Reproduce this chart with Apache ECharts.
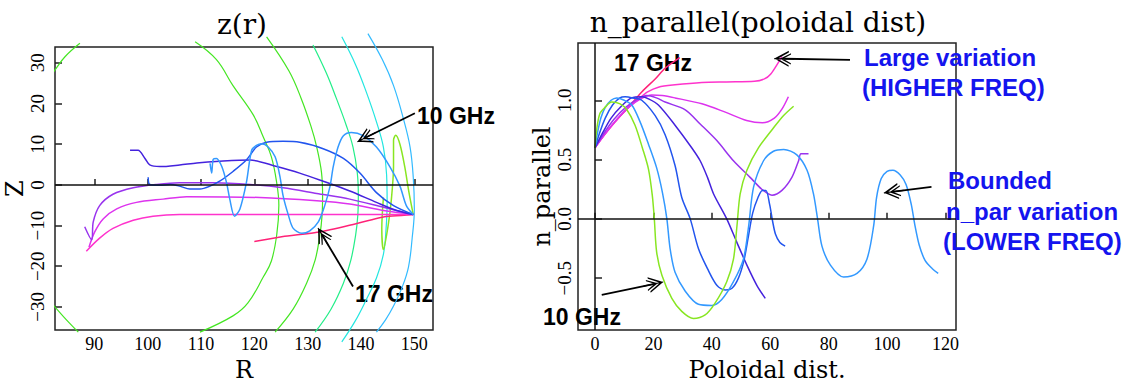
<!DOCTYPE html>
<html>
<head>
<meta charset="utf-8">
<title>z(r) / n_parallel(poloidal dist)</title>
<script src="https://cdn.jsdelivr.net/npm/echarts@6.0.0/dist/echarts.min.js"></script>
<style>
  html, body { margin: 0; padding: 0; background: #fff; }
  #main { width: 1129px; height: 387px; }
</style>
</head>
<body>
<div id="main"></div>
<script>
// tick values
const rTicks = [90, 100, 110, 120, 130, 140, 150]
const zTicks = [-30, -20, -10, 0, 10, 20, 30]
const pdTicks = [0, 20, 40, 60, 80, 100, 120]
const npTicks = [-0.5, 0, 0.5, 1.0]

// flux surfaces in the z(r) panel, [R, Z]
const surfA1 = [[81.7, 26.4], [82.6, 28.2], [84.5, 31.5], [87.3, 34.8]]
const surfA2 = [[81.7, -28.6], [84.3, -32.5], [87.0, -36.2]]
const surfB = [[108.9, 35.2], [112.9, 30.8], [116.0, 24.4], [119.8, 17.2], [121.7, 11.7], [123.2, 6.9], [124.2, 0.5], [124.6, -5], [124.2, -12.3], [123.2, -18.7], [121.7, -22.6], [118.8, -29], [116.0, -32.2], [109.8, -36.2]]
const surfC = [[122.3, 36.4], [126.5, 28], [128.8, 21.2], [130.6, 14.5], [131.7, 9.3], [132.6, 3], [132.8, -2.7], [132.7, -7.5], [132.3, -12.3], [131.4, -18.5], [129.8, -24.2], [127.3, -30.5], [123.9, -36.2]]
const surfD = [[131.0, 34.4], [133.5, 27.5], [135.4, 21.2], [137.2, 14.8], [138.5, 9.3], [139.3, 3], [139.5, -2.7], [139.4, -7.5], [139.0, -12.3], [138.1, -18.5], [136.7, -24.2], [134.4, -30.5], [131.4, -36.2]]
const surfE = [[136.4, 36.4], [139, 29.5], [141.0, 22.8], [142.9, 15.5], [144.2, 9.3], [144.8, 2.5], [144.9, -4.3], [144.7, -10.8], [144.2, -17.1], [142.9, -22.9], [141.0, -28.2], [138.9, -33.5], [136.4, -38.6]]
const surfF = [[141.3, 37.2], [144, 30.8], [146.1, 24.4], [147.9, 16.5], [149.2, 9.3], [149.8, 1.8], [150.0, -5.9], [149.6, -13], [148.9, -20.2], [147.7, -25.2], [146.1, -29.8], [144.6, -33.2], [142.9, -36.2]]

// ray paths in the z(r) panel, [R, Z]
const zrGreen = [[149.8, -7.3], [149, -1.9], [148.2, 4.5], [147.3, 10], [146.5, 12.2], [146.1, 11], [146.1, 4.5], [145.7, -3.5], [145.1, -9.9], [144.2, -15.9], [143.9, -10.7], [144.2, -3.1]]
const zrLightBlue = [[149.8, -7.3], [148.5, -5.1], [147.3, -0.3], [145.4, 4.5], [142.9, 9.3], [140.4, 12.1], [138.2, 12.9], [136.7, 12.1], [135.7, 9.3], [134.8, 4.5], [134.2, -0.3], [133.2, -5.1], [132, -9.1], [130.4, -11.3], [128.9, -11.9], [127.3, -10.7], [126.4, -7.5], [125.4, -2.7], [124.8, 2.1], [123.9, 6.9], [122.6, 9.3], [121.4, 10.1], [120.4, 9.7], [119.5, 8.5], [118.5, 0.5], [117.3, -5.9], [116.3, -7.7], [115.4, -3.5], [114.8, 0.5], [113.9, 4.5], [112.9, 6.5], [112.3, 6.3], [112.0, 2.9], [111.7, 5.3]]
const zrBlue = [[149.8, -7.3], [146.1, -5.1], [142.9, -1.9], [139.8, 2.9], [136.7, 6.5], [132.9, 8.9], [128.5, 10.5], [125.4, 10.7], [122.3, 10.5], [120.4, 9.3], [118.5, 6.1], [116, 3.3], [113.5, 0.9], [111.7, -0.3], [109.8, -1], [107.9, -1], [106, -0.3], [104.2, 0.1], [102.3, -0.1], [100.4, 0.1], [100.1, 1.9]]
const zrIndigo = [[149.8, -7.3], [146.7, -6.3], [142.9, -4.3], [137.9, -1.5], [132.9, 0.9], [128.5, 2.9], [124.2, 4.5], [119.2, 6.1], [113.5, 5.8], [109.2, 5.4], [106, 4.9], [102.3, 4.5], [100.4, 4.9], [99.5, 6.5], [98.2, 8.5], [96.7, 8.5]]
const zrViolet = [[149.8, -7.3], [144.2, -5.5], [137.9, -3.5], [131.7, -2.1], [125.4, -0.7], [119.2, 0.1], [112.3, 0.5], [106, 0.5], [101.7, 0.1], [97.3, -0.7], [93.5, -2.3], [91, -5.1], [89.8, -9.1], [89.5, -13.5], [88.2, -10.3]]
const zrMagenta = [[149.8, -7.3], [144.2, -6.3], [137.9, -4.7], [131.7, -3.9], [121, -3.1], [107.3, -2.9], [102.9, -3.5], [97.9, -4.3], [94.2, -5.9], [91.7, -8.3], [90.1, -11.5], [89, -15.3]]
const zrPink = [[149.8, -7.3], [140, -7.3], [120, -7.3], [106, -7.3], [101, -7.7], [97.3, -8.7], [93.5, -10.7], [91, -13.1], [88.5, -16.3]]
const zrRed = [[149.8, -7.3], [144.2, -7.9], [137.9, -9.9], [132.6, -11.5], [125.4, -12.7], [120, -13.9]]

// n_parallel along each ray, [poloidal dist, n_parallel]
const npGreen = [[0, 0.6], [0.6, 0.76], [1.7, 0.89], [3.4, 0.94], [5.7, 0.985], [8.6, 0.97], [10.9, 0.92], [13.7, 0.79], [16.2, 0.6], [18.3, 0.42], [19.6, 0.2], [20.3, 0], [21.1, -0.28], [22.9, -0.475], [26.3, -0.67], [29.7, -0.78], [33.7, -0.84], [37.7, -0.81], [41.1, -0.71], [45.1, -0.53], [47.4, -0.34], [48.6, -0.06], [49.7, 0.21], [52, 0.41], [56, 0.6], [61.2, 0.77], [64.5, 0.87], [68, 0.95]]
const npLightBlue = [[0, 0.6], [0.8, 0.72], [2, 0.85], [3.5, 0.94], [5.5, 1.0], [7.4, 1.02], [10, 1.0], [12.6, 0.96], [15.4, 0.82], [18.3, 0.63], [21.1, 0.43], [23.1, 0.22], [24.6, 0], [25.7, -0.25], [27.4, -0.45], [30.9, -0.61], [35.4, -0.72], [40, -0.73], [43.4, -0.68], [47.4, -0.53], [50.8, -0.34], [52.6, -0.06], [54.3, 0.27], [57.7, 0.49], [61.1, 0.57], [64.6, 0.585], [69.1, 0.54], [72.6, 0.41], [74.8, 0.21], [76.2, 0], [77.7, -0.23], [80.6, -0.39], [85.1, -0.49], [89.7, -0.46], [93.1, -0.34], [95.4, -0.06], [96.4, 0.18], [98, 0.34], [100, 0.4], [102, 0.41], [104.5, 0.37], [106.5, 0.29], [108.3, 0.12], [109.5, -0.05], [111, -0.22], [113, -0.35], [115.5, -0.42], [117.5, -0.46]]
const npBlue = [[0, 0.6], [1.5, 0.72], [3.5, 0.85], [6, 0.96], [8.5, 1.02], [10.3, 1.03], [13, 1.02], [16, 1.0], [20.6, 0.87], [24, 0.71], [27.4, 0.45], [29.7, 0.18], [32.6, 0], [35.4, -0.25], [38.5, -0.42], [41.7, -0.56], [44.6, -0.6], [46.9, -0.585], [49.1, -0.5], [51, -0.35], [52.5, -0.15], [54, 0.05], [55.8, 0.18], [57.3, 0.24], [58.5, 0.24], [59.8, 0.12], [60.8, -0.02], [61.8, -0.13], [63.3, -0.2], [65.1, -0.23]]
const npIndigo = [[0, 0.6], [2.5, 0.72], [5.5, 0.85], [9, 0.95], [12.5, 1.02], [16, 1.03], [18.5, 1.01], [21.7, 0.96], [27.4, 0.79], [33.1, 0.6], [36, 0.49], [38.5, 0.35], [40.6, 0.21], [45.1, 0], [48.6, -0.2], [52, -0.39], [55.4, -0.56], [58.3, -0.67]]
const npViolet = [[0, 0.6], [3, 0.72], [6.5, 0.84], [10.5, 0.94], [14.5, 1.01], [17.7, 1.04], [21, 1.02], [24, 0.985], [30.9, 0.92], [36, 0.8], [41.7, 0.66], [47.4, 0.49], [53.1, 0.35], [57.1, 0.25], [60.6, 0.2], [64, 0.24], [67.4, 0.35], [69.7, 0.49], [70.5, 0.55], [73.1, 0.55]]
const npMagenta = [[0, 0.6], [3.5, 0.72], [7.5, 0.84], [11.5, 0.94], [15.5, 1.01], [19.4, 1.045], [23, 1.04], [27.4, 1.02], [36.6, 0.97], [44.6, 0.9], [51.9, 0.83], [57.3, 0.81], [61.4, 0.85], [64.1, 0.93], [66.2, 1.03]]
const npPink = [[0, 0.6], [3, 0.7], [7, 0.82], [11, 0.93], [14.9, 1.01], [18, 1.07], [21.7, 1.11], [27.4, 1.13], [36.6, 1.15], [45, 1.155], [54.6, 1.16], [58, 1.18], [60.1, 1.22], [62.8, 1.32], [64, 1.37]]
const npRed = [[0, 0.6], [2.3, 0.68], [6.9, 0.82], [11.4, 0.94], [16, 1.07], [20.6, 1.18], [24, 1.27], [29, 1.36]]

const chart = echarts.init(document.getElementById('main'), null, { renderer: 'svg' })

const serif = 'DejaVu Serif'
const tickFont = 'Liberation Serif'
const sans = 'Liberation Sans'
const minus = v => String(v).replace('-', '\u2212')

const colors = {
	green: '#88e622',
	lightBlue: '#3399ff',
	blue: '#2255ee',
	indigo: '#4422dd',
	violet: '#9933ee',
	magenta: '#dd33ee',
	pink: '#ff33cc',
	red: '#ff2277'
}

function curve(data, color, grid, width, extra) {
	return Object.assign({
		type: 'line',
		data: data,
		xAxisIndex: grid,
		yAxisIndex: grid,
		symbol: 'none',
		smooth: 0.3,
		silent: true,
		lineStyle: { color: color, width: width },
		emphasis: { disabled: true }
	}, extra || {})
}

function xAxis(grid, min, max, ticks, name) {
	return {
		type: 'value', gridIndex: grid, min: min, max: max,
		name: name, nameLocation: 'middle', nameGap: 20,
		nameTextStyle: { fontFamily: serif, fontSize: 24, color: '#000' },
		axisLine: { show: false },
		axisTick: { inside: true, length: 6, customValues: ticks, lineStyle: { color: '#222', width: 1.5 } },
		axisLabel: { customValues: ticks, margin: 5, fontFamily: tickFont, fontSize: 18, color: '#000', formatter: minus },
		splitLine: { show: false }
	}
}

function yAxis(grid, min, max, ticks, name, fmt, margin) {
	return {
		type: 'value', gridIndex: grid, min: min, max: max,
		name: name, nameLocation: 'middle', nameGap: 23,
		nameTextStyle: { fontFamily: serif, fontSize: 24, color: '#000' },
		axisLine: { show: false },
		axisTick: { inside: true, length: 7, customValues: ticks, lineStyle: { color: '#222', width: 1.5 } },
		axisLabel: { customValues: ticks, rotate: 90, margin: margin, fontFamily: tickFont, fontSize: 19, color: '#000', formatter: fmt },
		splitLine: { show: false }
	}
}

// zero lines of each panel
function zeroLines(grid, marks) {
	return {
		type: 'line', xAxisIndex: grid, yAxisIndex: grid, data: [], silent: true,
		markLine: {
			silent: true, animation: false,
			symbol: ['none', 'none'],
			label: { show: false },
			emphasis: { disabled: true },
			lineStyle: { color: '#111', width: 1.5, type: 'solid' },
			data: marks
		}
	}
}

// chevron-with-spine head for the annotation arrows
const arrowHead = 'path://M10,0 L20,13 L18,13 L10,3 L2,13 L0,13 Z M10,5 L17,15 L15.5,15 L10,8 L4.5,15 L3,15 Z M9.3,0 L10.7,0 L10.7,18 L9.3,18 Z'

function arrows(grid, marks) {
	return {
		type: 'line', xAxisIndex: grid, yAxisIndex: grid, data: [], silent: true,
		markLine: {
			silent: true, animation: false,
			symbol: ['none', arrowHead],
			symbolSize: [16, 20],
			label: { show: false },
			emphasis: { disabled: true },
			itemStyle: { color: '#000' },
			lineStyle: { color: '#000', width: 1.8, type: 'solid' },
			data: marks.map(m => [{ coord: m[0] }, { coord: m[1] }])
		}
	}
}

function label(x, y, text, size, family, weight, color, align) {
	return {
		type: 'text', x: x, y: y, silent: true,
		style: {
			text: text, fill: color, fontSize: size, fontFamily: family, fontWeight: weight,
			align: align || 'left', verticalAlign: 'middle'
		}
	}
}

const blueText = '#1414ee'

const surfaces = [
	[surfA1, '#44e622'], [surfA2, '#44e622'], [surfB, '#44e622'], [surfC, '#44e622'],
	[surfD, '#22ee88'], [surfE, '#22e6e0'], [surfF, '#33bbff']
]

const series = []
surfaces.forEach(s => series.push(curve(s[0], s[1], 0, 1.2, { smooth: 0.4, clip: false })))
series.push(curve(zrGreen, colors.green, 0, 1.5))
series.push(curve(zrRed, colors.red, 0, 1.5, { smooth: 0.1 }))
series.push(curve(zrPink, colors.pink, 0, 1.5))
series.push(curve(zrMagenta, colors.magenta, 0, 1.5))
series.push(curve(zrViolet, colors.violet, 0, 1.5))
series.push(curve(zrIndigo, colors.indigo, 0, 1.5))
series.push(curve(zrBlue, colors.blue, 0, 1.5))
series.push(curve(zrLightBlue, colors.lightBlue, 0, 1.5))

series.push(curve(npRed, colors.red, 1, 1.5))
series.push(curve(npPink, colors.pink, 1, 1.5))
series.push(curve(npMagenta, colors.magenta, 1, 1.5))
series.push(curve(npViolet, colors.violet, 1, 1.5))
series.push(curve(npIndigo, colors.indigo, 1, 1.5))
series.push(curve(npBlue, colors.blue, 1, 1.5))
series.push(curve(npLightBlue, colors.lightBlue, 1, 1.5))
series.push(curve(npGreen, colors.green, 1, 1.5))

series.push(zeroLines(0, [
	[{ coord: [82.63, 0] }, { coord: [153.5, 0] }]
]))
series.push(zeroLines(1, [
	[{ coord: [-5.83, 0] }, { coord: [123.6, 0] }],
	[{ coord: [0, -0.938] }, { coord: [0, 1.483] }]
]))
series.push(arrows(0, [
	[[150.1, 17.6], [141.0, 11.7]],
	[[138.5, -25], [132.9, -12.7]]
]))
series.push(arrows(1, [
	[[87.3, 1.34], [64.8, 1.35]],
	[[115.2, 0.27], [102.3, 0.23]],
	[[2.3, -0.64], [20, -0.55]]
]))

const option = {
	animation: false,
	backgroundColor: '#fff',
	grid: [
		{ left: 55, top: 47, width: 378, height: 291, show: true, borderColor: '#222', borderWidth: 1.5, backgroundColor: 'transparent' },
		{ left: 578, top: 43, width: 378, height: 293, show: true, borderColor: '#222', borderWidth: 1.5, backgroundColor: 'transparent' }
	],
	xAxis: [
		xAxis(0, 82.63, 153.5, rTicks, 'R'),
		xAxis(1, -5.83, 123.6, pdTicks, 'Poloidal dist.')
	],
	yAxis: [
		yAxis(0, -35.7, 33.9, zTicks, 'Z', minus, 8),
		yAxis(1, -0.938, 1.483, npTicks, 'n_parallel', v => v.toFixed(1).replace('-', '\u2212'), 4)
	],
	series: series,
	graphic: [
		label(242, 24, 'z(r)', 28, serif, 'normal', '#000', 'center'),
		label(758, 22, 'n_parallel(poloidal dist)', 28, serif, 'normal', '#000', 'center'),
		label(417, 116, '10 GHz', 23, sans, 'bold', '#000'),
		label(355, 294, '17 GHz', 23, sans, 'bold', '#000'),
		label(614, 63, '17 GHz', 23, sans, 'bold', '#000'),
		label(543, 317, '10 GHz', 23, sans, 'bold', '#000'),
		label(864, 57, 'Large variation', 24, sans, 'bold', blueText),
		label(862, 87, '(HIGHER FREQ)', 24, sans, 'bold', blueText),
		label(948, 180, 'Bounded', 24, sans, 'bold', blueText),
		label(946, 211, 'n_par variation', 24, sans, 'bold', blueText),
		label(943, 241, '(LOWER FREQ)', 24, sans, 'bold', blueText)
	]
}

option && chart.setOption(option)
</script>
</body>
</html>
